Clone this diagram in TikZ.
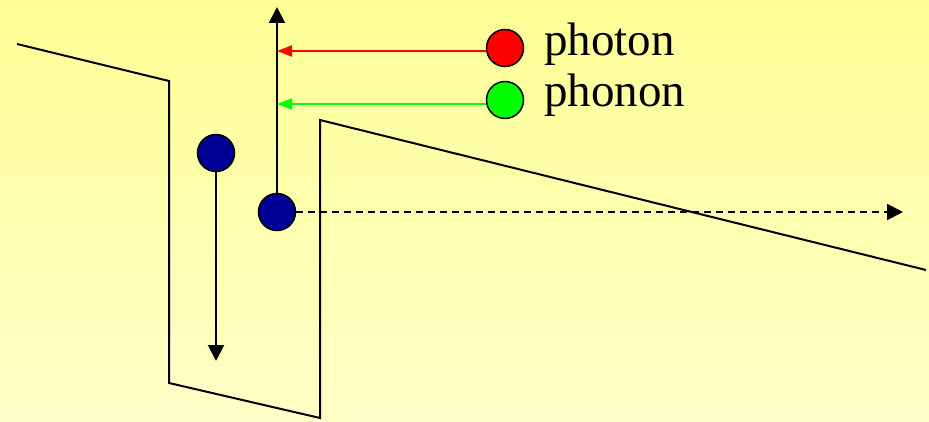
\documentclass[tikz,border=0pt]{standalone}
\usepackage{fontspec}
\setmainfont{Liberation Serif}
\usepackage{tikz}
\usetikzlibrary{arrows.meta, positioning}

\definecolor{bgtop}{RGB}{255,255,150}
\definecolor{bgbottom}{RGB}{255,255,200}
\definecolor{electron}{RGB}{0,0,150}

\begin{document}
\begin{tikzpicture}[x=1pt, y=-1pt, line width=2pt,
    particle/.style={draw, circle, line width=1.5pt, minimum size=37pt, inner sep=0pt},
    bigtip/.style={-{Triangle[length=16pt,width=16pt]}},
    smalltip/.style={-{Triangle[length=15pt,width=11pt]}},
    label/.style={anchor=base west, inner sep=0pt, font=\fontsize{47}{47}\selectfont}]
        % Background
        \shade[top color=bgtop, bottom color=bgbottom] (0,0) rectangle (929,422);
        \useasboundingbox (0,0) rectangle (929,422);

        % Band profile
        \draw (17,44) -- (169,81) -- (169,383) -- (320,418) -- (320,120) -- (926,270);

        % Particles
        \node (e1) [particle, fill=electron] at (216,153) {};
        \node (e2) [particle, fill=electron] at (277,212) {};
        \node (photon) [particle, fill=red] at (505,48) {};
        \node (phonon) [particle, fill=green] at (505,100) {};

        % Labels
        \node (photonlabel) [label] at (543,56) {photon};
        \node (phononlabel) [label] at (543,107) {phonon};

        % Arrow ends
        \coordinate (top) at (277,7);
        \coordinate (bottom) at (216,361);
        \coordinate (right) at (903,212);
        \coordinate (hitred) at (277,51);
        \coordinate (hitgreen) at (277,104);

        % Arrows
        \draw[bigtip] (e2) -- (top);
        \draw[bigtip] (e1) -- (bottom);
        \draw[bigtip, dashed, dash pattern=on 7pt off 5pt] (e2) -- (right);
        \draw[smalltip, red] (photon.west |- hitred) -- (hitred);
        \draw[smalltip, green] (phonon.west |- hitgreen) -- (hitgreen);
    \end{tikzpicture}
\end{document}
